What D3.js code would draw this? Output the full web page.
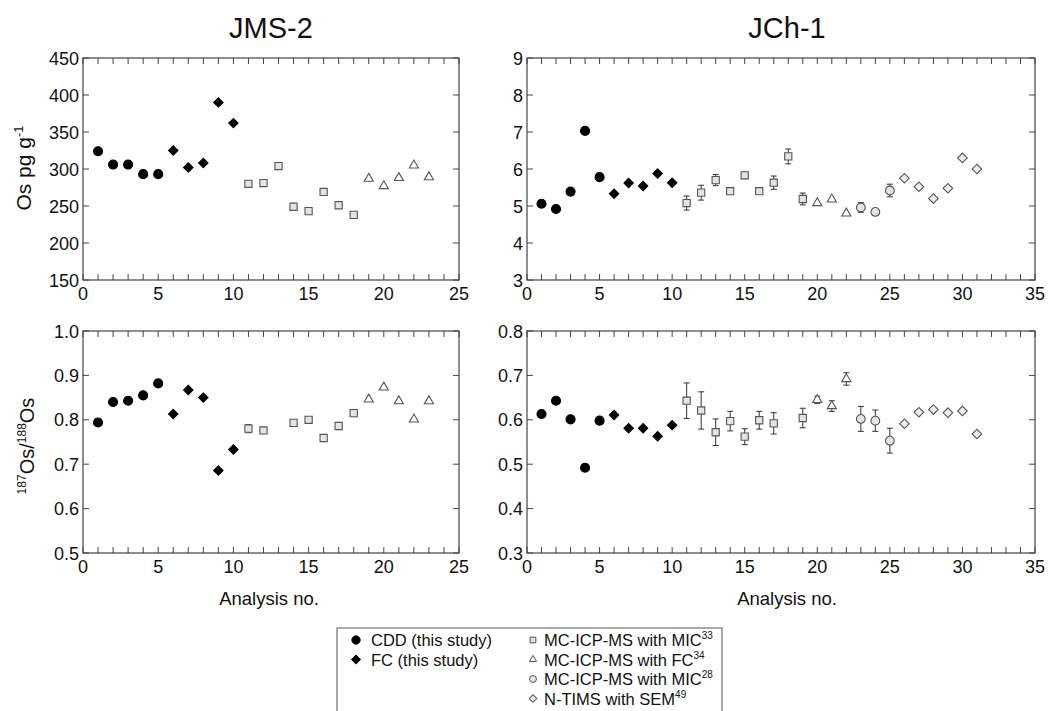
<!DOCTYPE html>
<html><head><meta charset="utf-8">
<script src="https://cdn.jsdelivr.net/npm/d3@7"></script>
<style>body{margin:0;background:#fff}svg{display:block}text{font-family:"Liberation Sans",Arial,sans-serif;fill:#111}</style>
</head><body>
<script>
// ---------- DATA ----------
const jmsMethod = ["CDD","CDD","CDD","CDD","CDD","FC","FC","FC","FC","FC","MIC33","MIC33","MIC33","MIC33","MIC33","MIC33","MIC33","MIC33","FC34","FC34","FC34","FC34","FC34"];
const jmsOs = [324,306,306,293,293,325,302,308,390,362,280,281,304,249,243,269,251,238,287,277,288,305,289];
const jmsOsErr = [0,0,0,0,0,0,0,0,0,0,3,0,0,0,0,0,0,0,0,0,0,0,0];
const jmsRatio = [0.794,0.840,0.843,0.855,0.882,0.813,0.867,0.850,0.686,0.733,0.780,0.776,null,0.793,0.800,0.759,0.786,0.815,0.846,0.873,0.842,0.801,0.842];
const jmsRatioErr = [0,0,0,0,0,0,0,0,0,0,0.009,0.007,0,0,0,0,0,0,0,0,0,0,0];

const jchMethod = ["CDD","CDD","CDD","CDD","CDD","FC","FC","FC","FC","FC","MIC33","MIC33","MIC33","MIC33","MIC33","MIC33","MIC33","MIC33","MIC33","FC34","FC34","FC34","MIC28","MIC28","MIC28","SEM","SEM","SEM","SEM","SEM","SEM"];
const jchOs = [5.06,4.92,5.39,7.03,5.78,5.33,5.62,5.54,5.88,5.63,5.08,5.36,5.70,5.40,5.83,5.40,5.63,6.34,5.19,5.08,5.18,4.80,4.96,4.84,5.42,5.75,5.52,5.20,5.48,6.30,6.00];
const jchOsErr = [0,0,0,0,0,0,0,0,0,0,0.19,0.20,0.15,0,0,0,0.18,0.20,0.16,0,0,0,0.13,0.08,0.17,0,0,0,0,0,0];
const jchRatio = [0.613,0.643,0.601,0.492,0.598,0.611,0.581,0.581,0.563,0.588,0.643,0.621,0.572,0.597,0.562,0.599,0.592,null,0.604,0.645,0.631,0.692,0.602,0.598,0.553,0.591,0.617,0.623,0.616,0.620,0.568];
const jchRatioErr = [0,0,0,0,0,0,0,0,0,0,0.040,0.042,0.030,0.022,0.018,0.020,0.024,0,0.022,0.008,0.012,0.014,0.028,0.024,0.028,0,0,0,0,0,0];

const jmsOsTicks = [150,200,250,300,350,400,450];
const jmsRatioTicks = [0.5,0.6,0.7,0.8,0.9,1.0];
const jchOsTicks = [3,4,5,6,7,8,9];
const jchRatioTicks = [0.3,0.4,0.5,0.6,0.7,0.8];
const jmsXTicks = [0,5,10,15,20,25];
const jchXTicks = [0,5,10,15,20,25,30,35];

const legendLeft = [["CDD","CDD (this study)",""],["FC","FC (this study)",""]];
const legendRight = [["MIC33","MC-ICP-MS with MIC","33"],["FC34","MC-ICP-MS with FC","34"],["MIC28","MC-ICP-MS with MIC","28"],["SEM","N-TIMS with SEM","49"]];

// ---------- STYLE ----------
const styles = {
  CDD:  {type:d3.symbolCircle, size:64, fill:"#000", stroke:"#000", rot:0},
  FC:   {type:d3.symbolSquare, size:44, fill:"#000", stroke:"#000", rot:45},
  MIC33:{type:d3.symbolSquare, size:52, fill:"#e4e4e4", stroke:"#555", rot:0},
  FC34: {type:d3.symbolTriangle, size:36, fill:"#fff", stroke:"#555", rot:0},
  MIC28:{type:d3.symbolCircle, size:60, fill:"#e4e4e4", stroke:"#555", rot:0},
  SEM:  {type:d3.symbolSquare, size:46, fill:"#ececec", stroke:"#555", rot:45}
};

const W = 1060, H = 711;
const svg = d3.select("body").append("svg").attr("width", W).attr("height", H);

function panel(x0, x1, y0, y1, xmax, xTicks, yDomain, yTicks, yFmt, vals, errs, methods) {
  const x = d3.scaleLinear().domain([0, xmax]).range([x0, x1]);
  const y = d3.scaleLinear().domain(yDomain).range([y1, y0]);
  const g = svg.append("g");
  const minor = d3.range(0, xmax + 1);
  const tl = 6;
  g.selectAll(".xb").data(minor).join("line")
    .attr("x1", d => x(d)).attr("x2", d => x(d)).attr("y1", y1).attr("y2", y1 - tl)
    .attr("stroke", "#444").attr("stroke-width", 1);
  g.selectAll(".xt").data(minor).join("line")
    .attr("x1", d => x(d)).attr("x2", d => x(d)).attr("y1", y0).attr("y2", y0 + tl)
    .attr("stroke", "#444").attr("stroke-width", 1);
  g.selectAll(".yl").data(yTicks).join("line")
    .attr("x1", x0).attr("x2", x0 + tl).attr("y1", d => y(d)).attr("y2", d => y(d))
    .attr("stroke", "#444");
  g.selectAll(".yr").data(yTicks).join("line")
    .attr("x1", x1).attr("x2", x1 - tl).attr("y1", d => y(d)).attr("y2", d => y(d))
    .attr("stroke", "#444");
  g.append("rect").attr("x", x0).attr("y", y0).attr("width", x1 - x0).attr("height", y1 - y0)
    .attr("fill", "none").attr("stroke", "#444").attr("stroke-width", 1.2);
  g.selectAll(".xlab").data(xTicks).join("text")
    .attr("x", d => x(d)).attr("y", y1 + 20).attr("text-anchor", "middle")
    .attr("font-size", 18).text(d => d);
  g.selectAll(".ylab").data(yTicks).join("text")
    .attr("x", x0 - 4).attr("y", d => y(d) + 6.5).attr("text-anchor", "end")
    .attr("font-size", 18).text(d => yFmt(d));
  const pts = vals.map((v, i) => ({n: i + 1, v, e: errs[i], m: methods[i]})).filter(d => d.v !== null);
  const eb = pts.filter(d => d.e > 0);
  eb.forEach(d => {
    const xx = x(d.n), ya = y(d.v + d.e), yb = y(d.v - d.e);
    g.append("line").attr("x1", xx).attr("x2", xx).attr("y1", ya).attr("y2", yb).attr("stroke", "#333");
    g.append("line").attr("x1", xx - 3).attr("x2", xx + 3).attr("y1", ya).attr("y2", ya).attr("stroke", "#333");
    g.append("line").attr("x1", xx - 3).attr("x2", xx + 3).attr("y1", yb).attr("y2", yb).attr("stroke", "#333");
  });
  g.selectAll(".pt").data(pts).join("path")
    .attr("d", d => d3.symbol().type(styles[d.m].type).size(styles[d.m].size)())
    .attr("transform", d => `translate(${x(d.n)},${y(d.v)}) rotate(${styles[d.m].rot})`)
    .attr("fill", d => styles[d.m].fill).attr("stroke", d => styles[d.m].stroke).attr("stroke-width", 1.1);
}

const f0 = d => d3.format("d")(d);
const f1 = d => d3.format(".1f")(d);
panel(83, 459, 58, 280, 25, jmsXTicks, [150, 450], jmsOsTicks, f0, jmsOs, jmsOsErr, jmsMethod);
panel(527, 1035, 58, 280, 35, jchXTicks, [3, 9], jchOsTicks, f0, jchOs, jchOsErr, jchMethod);
panel(83, 459, 331, 553, 25, jmsXTicks, [0.5, 1.0], jmsRatioTicks, f1, jmsRatio, jmsRatioErr, jmsMethod);
panel(527, 1035, 331, 553, 35, jchXTicks, [0.3, 0.8], jchRatioTicks, f1, jchRatio, jchRatioErr, jchMethod);

// titles
svg.append("text").attr("x", 271).attr("y", 38).attr("text-anchor", "middle").attr("font-size", 29).text("JMS-2");
svg.append("text").attr("x", 787).attr("y", 38).attr("text-anchor", "middle").attr("font-size", 29).text("JCh-1");

// axis labels
const yl1 = svg.append("text").attr("transform", "translate(31,168) rotate(-90)").attr("text-anchor", "middle").attr("font-size", 21);
yl1.append("tspan").text("Os pg g");
yl1.append("tspan").attr("font-size", 13).attr("dy", -8).text("-1");
const yl2 = svg.append("text").attr("transform", "translate(34,446) rotate(-90)").attr("text-anchor", "middle").attr("font-size", 20);
yl2.append("tspan").attr("font-size", 12).attr("dy", -8).text("187");
yl2.append("tspan").attr("dy", 8).text("Os/");
yl2.append("tspan").attr("font-size", 12).attr("dy", -8).text("188");
yl2.append("tspan").attr("dy", 8).text("Os");
svg.append("text").attr("x", 269).attr("y", 605).attr("text-anchor", "middle").attr("font-size", 18.5).text("Analysis no.");
svg.append("text").attr("x", 787).attr("y", 605).attr("text-anchor", "middle").attr("font-size", 18.5).text("Analysis no.");

// legend
svg.append("rect").attr("x", 337).attr("y", 628).attr("width", 385).attr("height", 100)
  .attr("fill", "none").attr("stroke", "#555").attr("stroke-width", 1);
legendLeft.forEach((d, i) => {
  const yy = 640 + i * 19.5;
  const s = styles[d[0]];
  svg.append("path").attr("d", d3.symbol().type(s.type).size(s.size * 0.85)())
    .attr("transform", `translate(356,${yy}) rotate(${s.rot})`).attr("fill", s.fill).attr("stroke", s.stroke);
  svg.append("text").attr("x", 371).attr("y", yy + 6).attr("font-size", 16.5).text(d[1]);
});
legendRight.forEach((d, i) => {
  const yy = 640 + i * 19.5;
  const s = styles[d[0]];
  svg.append("path").attr("d", d3.symbol().type(s.type).size(s.size * 0.62)())
    .attr("transform", `translate(533,${yy}) rotate(${s.rot})`).attr("fill", s.fill).attr("stroke", s.stroke);
  const t = svg.append("text").attr("x", 544).attr("y", yy + 6).attr("font-size", 16.5);
  t.append("tspan").text(d[1]);
  t.append("tspan").attr("font-size", 10).attr("dy", -7).text(d[2]);
});
</script>
</body></html>
